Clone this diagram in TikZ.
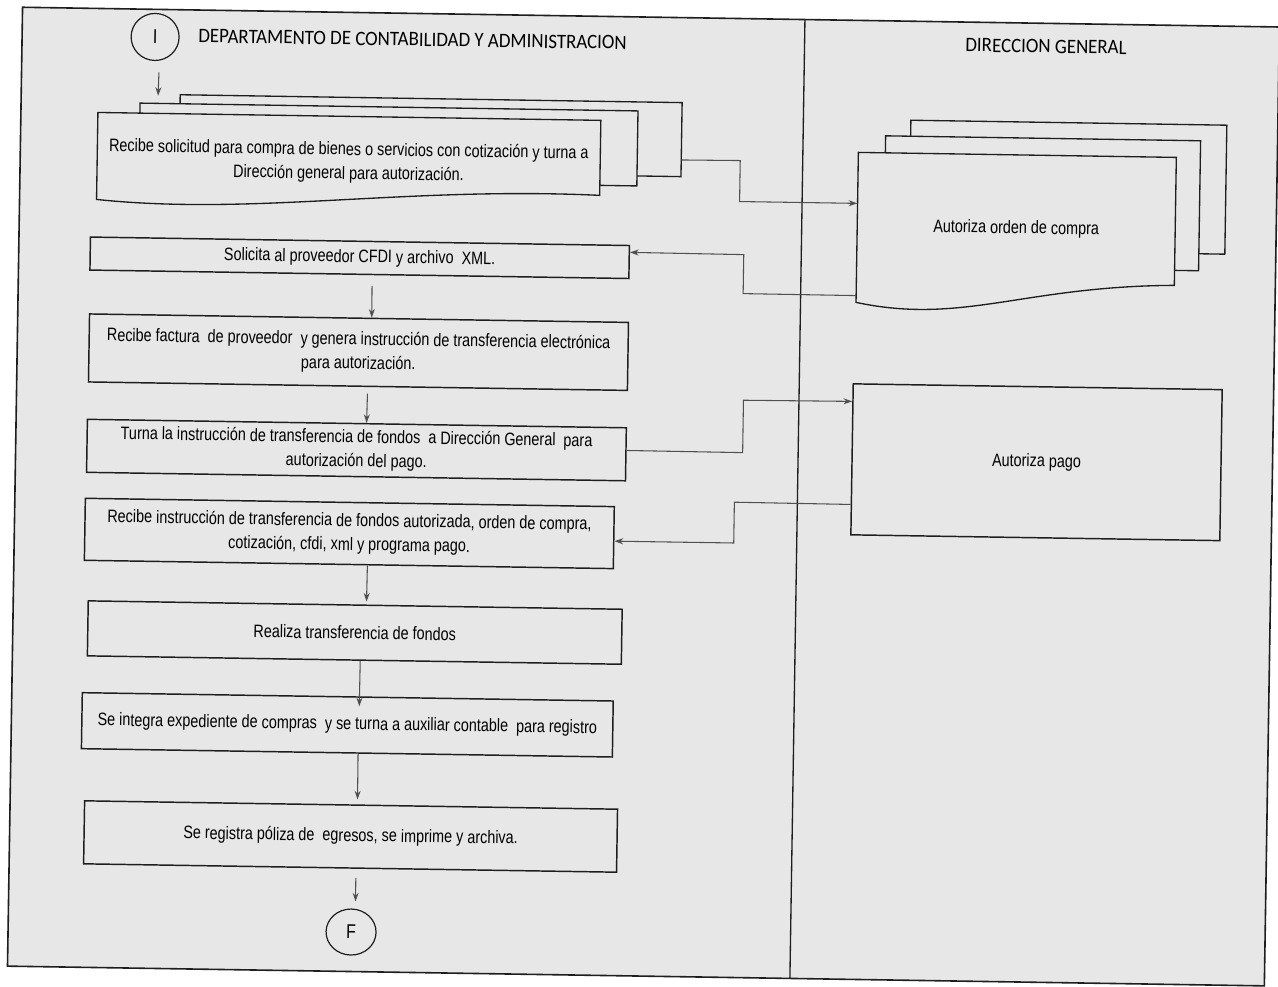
\documentclass[tikz,border=0pt]{standalone}
\usepackage{fontspec}
\setmainfont{Liberation Sans}[FakeStretch=0.80]
\newfontfamily\headfont{Carlito}[FakeStretch=0.92]
\usetikzlibrary{calc,arrows.meta,shapes.geometric}
\definecolor{paper}{RGB}{231,231,231}
\definecolor{ink}{RGB}{30,30,30}
\definecolor{wire}{RGB}{80,80,80}
\begin{document}
\begin{tikzpicture}[x=0.75pt,y=-0.75pt,
  sz/.style 2 args={minimum width=#1*0.75pt,minimum height=#2*0.75pt},
  box/.style={draw=ink,line width=1.1pt,rectangle,inner sep=0pt,align=center,text=black,font=\fontsize{13.5}{18}\selectfont},
  sheet/.style={draw=ink,line width=1pt,fill=paper,rectangle,inner sep=0pt},
  doctext/.style={inner sep=0pt,align=center,text=black,font=\fontsize{13.5}{18}\selectfont},
  term/.style={draw=ink,line width=0.9pt,ellipse,inner sep=0pt,font=\fontsize{15}{15}\selectfont},
  flow/.style={draw=wire,line width=0.8pt,-{Stealth[length=6.5pt,width=4.5pt]}},
  lane/.style={draw=ink,line width=1pt},
  head/.style={inner sep=0pt,text=black,font=\headfont\fontsize{15.4}{15.4}\selectfont}]

\useasboundingbox (0,0) rectangle (1278,987);
\fill[white] (0,0) rectangle (1278,987);

\begin{scope}[rotate around={-0.9:(639,493)},transform shape]
% swimlane frame
\fill[paper] (15,17) rectangle (1272,976);
\draw[lane,line width=1.2pt] (15,17) rectangle (1272,976);
\draw[lane] (797.5,17) -- (797.5,976);

\node[head,anchor=west] (h1) at (191,43) {DEPARTAMENTO DE CONTABILIDAD Y ADMINISTRACION};
\node[head] (h2) at (1039,40) {DIRECCION GENERAL};

\node[term,sz={48}{47}] (ci) at (148,44.6) {I};

% stacked documents, accounting lane
\node[sheet,sz={502}{74}] (d1c) at (425,139) {};
\node[sheet,sz={498}{75}] (d1b) at (383,148.5) {};
\filldraw[draw=ink,fill=paper,line width=1pt] (92,121) -- (595,121) -- (595,196)
  .. controls (400,190) and (250,222) .. (92,208) -- cycle;
\node[doctext,sz={503}{91}] (d1a) at (343.5,167)
  {Recibe solicitud para compra de bienes o servicios con cotización y turna a\\Dirección general para autorización.};

% stacked documents, direction lane
\node[sheet,sz={316}{129}] (d2c) at (1063,180.5) {};
\node[sheet,sz={315}{130}] (d2b) at (1037.5,197) {};
\filldraw[draw=ink,fill=paper,line width=1pt] (853,149) -- (1171,149) -- (1171,277)
  .. controls (1020,280) and (960,320) .. (853,299) -- cycle;
\node[doctext,sz={318}{148}] (d2a) at (1012,223) {Autoriza orden de compra};

% process boxes
\node[box,sz={539}{33}] (s1) at (356,262.2) {Solicita al proveedor CFDI y archivo\ \ XML.};
\node[box,sz={539}{68}] (s2) at (356.3,356.6)
  {Recibe factura\ \ de proveedor\ \ y genera instrucción de transferencia electrónica\\para autorización.};
\node[box,sz={539}{53}] (s3) at (355.8,454.5)
  {Turna la instrucción de transferencia de fondos\ \ a Dirección General\ \ para\\autorización del pago.};
\node[box,sz={529}{62}] (s4) at (350,538)
  {Recibe instrucción de transferencia de fondos autorizada, orden de compra,\\cotización, cfdi, xml y programa pago.};
\node[box,sz={534}{55}] (s5) at (357,637) {Realiza transferencia de fondos};
\node[box,sz={531}{56}] (s6) at (351,729.4)
  {Se integra expediente de compras\ \ y se turna a auxiliar contable\ \ para registro};
\node[box,sz={533}{63}] (s7) at (356,841) {Se registra póliza de\ \ egresos, se imprime y archiva.};
\node[box,sz={369}{151}] (p1) at (1036,456) {Autoriza pago};
\node[term,sz={50}{46}] (cf) at (358,936.5) {F};

% vertical flow
\draw[flow,shorten <=8.5pt,shorten >=5.2pt] ([xshift=3.45pt]ci.south) -- ($(d1b.north west)!0.037!(d1b.north east)$);
\draw[flow,shorten <=8pt] ($(s1.south west)!0.5236!(s1.south east)$) -- ($(s2.north west)!0.5236!(s2.north east)$);
\draw[flow,shorten <=5pt] ($(s2.south west)!0.518!(s2.south east)$) -- ($(s3.north west)!0.518!(s3.north east)$);
\draw[flow,shorten >=2.2pt] ($(s4.south west)!0.535!(s4.south east)$) -- ($(s5.north west)!0.521!(s5.north east)$);
\draw[flow,shorten >=-7.5pt] ($(s5.south west)!0.511!(s5.south east)$) -- ($(s6.north west)!0.522!(s6.north east)$);
\draw[flow,shorten >=3.7pt] ($(s6.south west)!0.521!(s6.south east)$) -- ($(s7.north west)!0.512!(s7.north east)$);
\draw[flow,shorten <=6.75pt,shorten >=5.25pt] ($(s7.south west)!0.511!(s7.south east)$) -- ([xshift=3pt]cf.north);

% flow across lanes
\draw[flow] ($(d1c.north east)!0.77!(d1c.south east)$) -- (735,159) -- (735,200)
  -- ($(d2a.north west)!0.345!(d2a.south west)$);
\draw[flow] ($(d2a.north west)!0.966!(d2a.south west)$) -- (740,292) -- (740,253)
  -- ($(s1.north east)!0.22!(s1.south east)$);
\draw[flow] ($(s3.north east)!0.43!(s3.south east)$) -- (742,451) -- (742,398.6)
  -- ($(p1.north west)!0.12!(p1.south west)$);
\draw[flow] ($(p1.north west)!0.796!(p1.south west)$) -- (734.5,500.7) -- (734.5,541.5)
  -- ($(s4.north east)!0.556!(s4.south east)$);
\end{scope}
\end{tikzpicture}
\end{document}
